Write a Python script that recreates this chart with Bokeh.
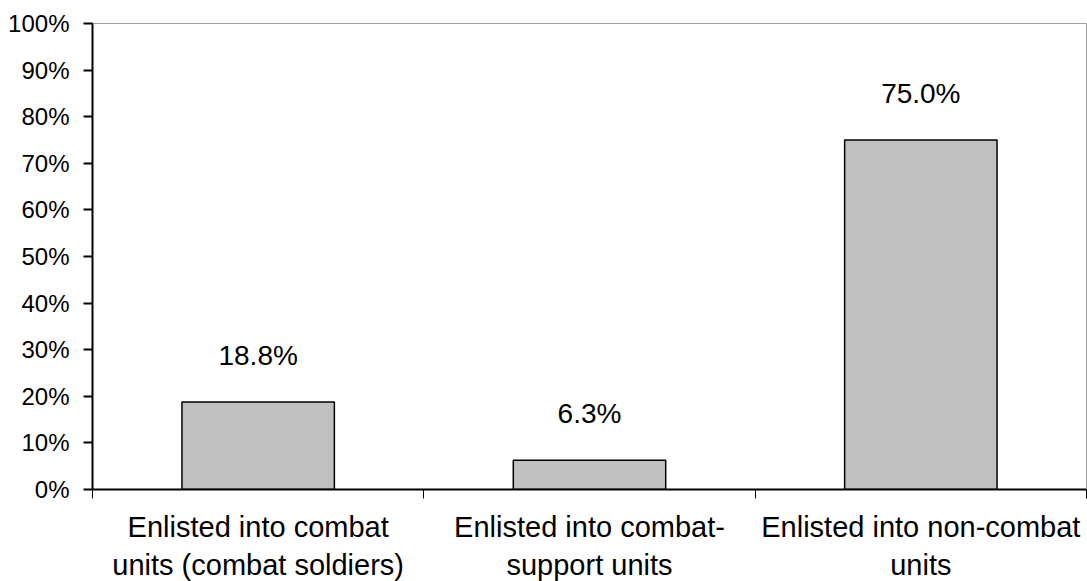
from bokeh.plotting import figure
from bokeh.models import (ColumnDataSource, Range1d, FixedTicker, LinearAxis,
                          NumeralTickFormatter, LabelSet)
from bokeh.core.properties import value
from bokeh.embed import file_html
from bokeh.resources import INLINE

# Share of enlistees by unit type
categories = [
    "Enlisted into combat\nunits (combat soldiers)",
    "Enlisted into combat-\nsupport units",
    "Enlisted into non-combat\nunits",
]
shares = [0.188, 0.063, 0.750]
share_labels = ["18.8%", "6.3%", "75.0%"]
y_ticks = [0.0, 0.1, 0.2, 0.3, 0.4, 0.5, 0.6, 0.7, 0.8, 0.9, 1.0]

FONT = "Liberation Sans"

centers = [i + 0.5 for i in range(len(categories))]
source = ColumnDataSource(dict(x=centers, top=shares, label=share_labels))

p = figure(
    width=1087, height=581,
    x_range=Range1d(0, len(categories)), y_range=Range1d(0, 1),
    output_backend="svg", toolbar_location=None,
    x_axis_type=None, y_axis_type=None,
    min_border_left=92, min_border_right=1, min_border_top=23, min_border_bottom=92,
)
p.frame_width = 994
p.frame_height = 466
p.background_fill_color = "white"
p.border_fill_color = "white"
p.outline_line_color = "#a0a0a0"
p.outline_line_width = 1

# Category axis: label ticks at bar centres, separator ticks at boundaries
x_axis = LinearAxis(
    ticker=FixedTicker(ticks=centers, minor_ticks=list(range(len(categories) + 1))),
    major_label_overrides={c: lab for c, lab in zip(centers, categories)},
)
x_axis.axis_line_color = "black"
x_axis.axis_line_width = 2
x_axis.major_tick_out = 0
x_axis.major_tick_in = 0
x_axis.minor_tick_out = 9
x_axis.minor_tick_in = 0
x_axis.minor_tick_line_color = "black"
x_axis.minor_tick_line_width = 1
x_axis.major_label_standoff = 12
x_axis.major_label_text_font = FONT
x_axis.major_label_text_font_size = "29px"
x_axis.major_label_text_color = "black"
p.add_layout(x_axis, "below")

y_axis = LinearAxis(ticker=FixedTicker(ticks=y_ticks, minor_ticks=[]),
                    formatter=NumeralTickFormatter(format="0%"))
y_axis.axis_line_color = "black"
y_axis.axis_line_width = 2
y_axis.major_tick_out = 9
y_axis.major_tick_in = 0
y_axis.major_tick_line_color = "black"
y_axis.major_tick_line_width = 2
y_axis.major_label_standoff = 14
y_axis.major_label_text_font = FONT
y_axis.major_label_text_font_size = "24px"
y_axis.major_label_text_color = "black"
p.add_layout(y_axis, "left")

p.xgrid.visible = False
p.ygrid.ticker = FixedTicker(ticks=y_ticks)
p.ygrid.grid_line_color = "#c4c4c4"
p.ygrid.grid_line_width = 1.5

p.vbar(x="x", top="top", width=0.46, bottom=0, source=source,
       fill_color="#c0c0c0", line_color="black", line_width=1.5)

labels = LabelSet(x="x", y="top", text="label", source=source,
                  text_align="center", text_baseline="alphabetic", y_offset=37,
                  text_font=value(FONT), text_font_size="28px", text_color="black")
p.add_layout(labels)

open("out.html", "w").write(file_html(p, INLINE))
